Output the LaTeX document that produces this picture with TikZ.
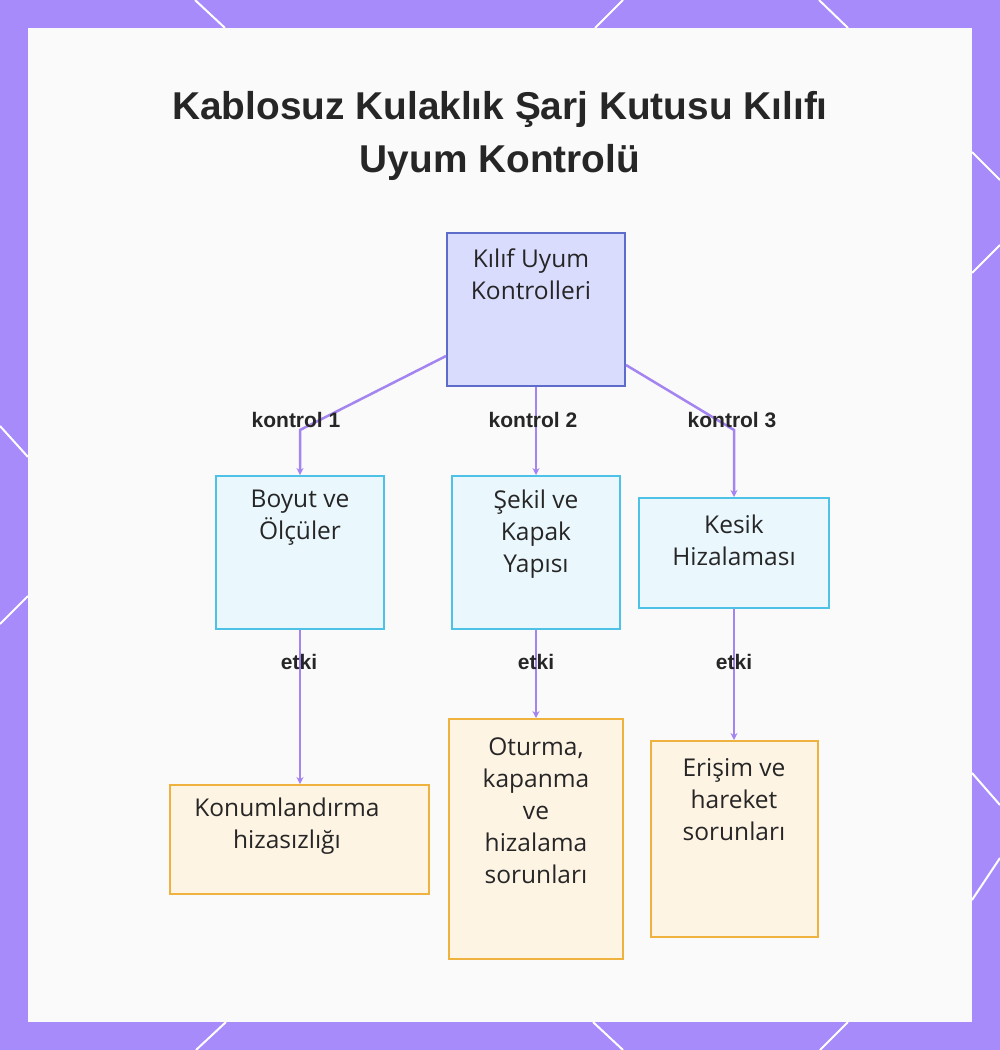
\documentclass[tikz,border=0pt]{standalone}
\usepackage{fontspec}
\setmainfont{Open Sans}
\newfontfamily\headfont{Liberation Sans}
\usetikzlibrary{arrows.meta,positioning}

\definecolor{bgpurple}{HTML}{A78BFA}
\definecolor{linkpurple}{HTML}{A384F0}
\definecolor{rootfill}{HTML}{DADCFE}
\definecolor{rootdraw}{HTML}{5D6BCB}
\definecolor{checkfill}{HTML}{EAF7FD}
\definecolor{checkdraw}{HTML}{4EC2E6}
\definecolor{effectfill}{HTML}{FEF4E4}
\definecolor{effectdraw}{HTML}{EFB23E}
\definecolor{inktext}{HTML}{262626}

\tikzset{
  rootbox/.style={draw=rootdraw, fill=rootfill, line width=2pt, inner sep=0pt},
  checkbox/.style={draw=checkdraw, fill=checkfill, line width=2pt, inner sep=0pt},
  effectbox/.style={draw=effectdraw, fill=effectfill, line width=2pt, inner sep=0pt},
  boxtext/.style={align=center, text=inktext, inner sep=0pt,
    font=\fontsize{24.5}{32}\selectfont},
  lbl/.style={text=inktext, inner sep=0pt, font=\headfont\bfseries\fontsize{21}{24}\selectfont},
  link/.style={draw=linkpurple, line width=2.5pt,
    -{Stealth[length=7pt,width=7pt]}},
  deco/.style={draw=white, line width=2pt}
}

\begin{document}
\begin{tikzpicture}[x=1pt,y=-1pt]
\useasboundingbox (0,0) rectangle (1000,1050);

%Frame
\fill[bgpurple] (0,0) rectangle (1000,1050);
\draw[deco] (195,0) -- (225,28);
\draw[deco] (623,0) -- (595,28);
\draw[deco] (819,0) -- (848,28);
\draw[deco] (226,1022) -- (196,1050);
\draw[deco] (593,1022) -- (623,1050);
\draw[deco] (848,1022) -- (820,1050);
\draw[deco] (0,426) -- (28,457);
\draw[deco] (28,596) -- (0,624);
\draw[deco] (972,152) -- (1000,180);
\draw[deco] (1000,245) -- (972,273);
\draw[deco] (972,773) -- (1000,805);
\draw[deco] (1000,858) -- (972,900);
\fill[white!98!black] (28,28) rectangle (972,1022);

%Title
\node[align=center, text=inktext, inner sep=0pt,
  font=\headfont\bfseries\fontsize{38.8}{53}\selectfont] (title) at (500,136)
  {Kablosuz Kulaklık Şarj Kutusu Kılıfı\\Uyum Kontrolü};

%Root
\node[rootbox, minimum width=178pt, minimum height=153pt] (root) at (536,309.5) {};
\node[boxtext] (root-t) at (531,274.5) {Kılıf Uyum\\Kontrolleri};

%Checks
\node[checkbox, minimum width=168pt, minimum height=153pt] (size) at (300,552.5) {};
\node[boxtext] (size-t) at (300,518) {Boyut ve\\Ölçüler};

\node[checkbox, minimum width=168pt, minimum height=153pt] (shape) at (536,552.5) {};
\node[boxtext] (shape-t) at (536,534.5) {Şekil ve\\Kapak\\Yapısı};

\node[checkbox, minimum width=190pt, minimum height=110pt] (cut) at (734,553) {};
\node[boxtext] (cut-t) at (734,540) {Kesik\\Hizalaması};

%Effects
\node[effectbox, minimum width=259pt, minimum height=109pt] (place) at (299.5,839.5) {};
\node[boxtext] (place-t) at (287,826) {Konumlandırma\\hizasızlığı};

\node[effectbox, minimum width=174pt, minimum height=240pt] (fit) at (536,839) {};
\node[boxtext] (fit-t) at (536,810.5) {Oturma,\\kapanma\\ve\\hizalama\\sorunları};

\node[effectbox, minimum width=167pt, minimum height=196pt] (access) at (734.5,839) {};
\node[boxtext] (access-t) at (734,800) {Erişim ve\\hareket\\sorunları};

%Links
\coordinate (r1) at ([yshift=31pt]root.south west);
\coordinate (r3) at ([yshift=22pt]root.south east);
\coordinate (bend1) at (300,430);
\coordinate (bend3) at (734,430);
\draw[link] (r1) -- (bend1) -- (size.north);
\draw[link] (root.south) -- (shape.north);
\draw[link] (r3) -- (bend3) -- (cut.north);
\draw[link] (size.south) -- (size.south |- place.north);
\draw[link] (shape.south) -- (fit.north);
\draw[link] (cut.south) -- (cut.south |- access.north);

%Labels
\node[lbl] (k1) at (296,420) {kontrol 1};
\node[lbl] (k2) at (533,420) {kontrol 2};
\node[lbl] (k3) at (732,420) {kontrol 3};
\node[lbl] (e1) at (299,662) {etki};
\node[lbl] (e2) at (536,662) {etki};
\node[lbl] (e3) at (734,662) {etki};
\end{tikzpicture}
\end{document}
